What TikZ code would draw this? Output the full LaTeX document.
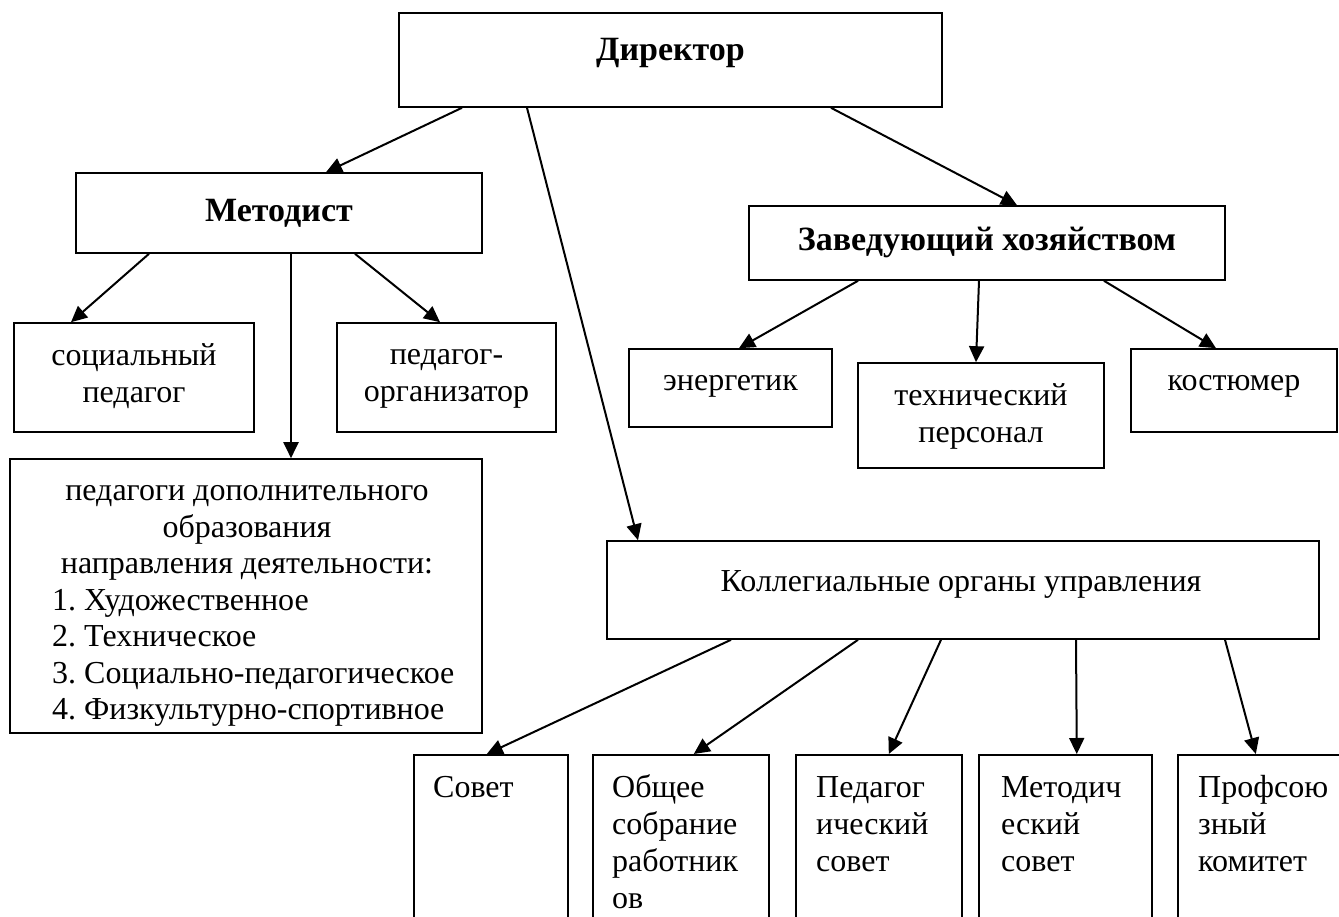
\documentclass[tikz,border=0pt]{standalone}
\usepackage{fontspec}
\setmainfont{Liberation Serif}
\usetikzlibrary{arrows.meta}

\newcommand{\coltext}[1]{\parbox[t]{150pt}{\raggedright\strut #1}}

\tikzset{
  box/.style={draw, line width=1.6pt, inner sep=0pt},
  arr/.style={line width=2pt, -{Triangle[length=16pt,width=15pt]}},
  txt/.style={inner sep=0pt, align=center, font=\fontsize{32}{37}\selectfont\frenchspacing},
  head/.style={inner sep=0pt, font=\fontsize{34}{40}\selectfont\bfseries},
  col/.style={inner sep=0pt, anchor=base west, font=\fontsize{32}{37}\selectfont},
}

\begin{document}
\begin{tikzpicture}[x=1pt,y=-1pt]
  \useasboundingbox (0,0) rectangle (1339,917);
  \clip (0,0) rectangle (1339,917);
  % boxes
  \node[box, minimum width=543pt, minimum height=94pt] (dir) at (670.5,60) {};
  \node[box, minimum width=406pt, minimum height=80pt] (met) at (279,213) {};
  \node[box, minimum width=476pt, minimum height=74pt] (zav) at (987,243) {};
  \node[box, minimum width=240pt, minimum height=109pt] (soc) at (134,377.5) {};
  \node[box, minimum width=219pt, minimum height=109pt] (porg) at (446.5,377.5) {};
  \node[box, minimum width=472pt, minimum height=274pt] (ped) at (246,596) {};
  \node[box, minimum width=203pt, minimum height=78pt] (en) at (730.5,388) {};
  \node[box, minimum width=246pt, minimum height=105pt] (tech) at (981,415.5) {};
  \node[box, minimum width=206pt, minimum height=83pt] (kos) at (1234,390.5) {};
  \node[box, minimum width=712pt, minimum height=98pt] (kol) at (963,590) {};
  \node[box, anchor=north west, minimum width=154pt, minimum height=200pt] (sov) at (413,754) {};
  \node[box, anchor=north west, minimum width=176pt, minimum height=200pt] (obs) at (592,754) {};
  \node[box, anchor=north west, minimum width=166pt, minimum height=200pt] (psov) at (795,754) {};
  \node[box, anchor=north west, minimum width=173pt, minimum height=200pt] (msov) at (978,754) {};
  \node[box, anchor=north west, minimum width=173pt, minimum height=200pt] (prof) at (1177,754) {};

  % texts
  \node[head] (dirtxt) at (670.5,53) {Директор};
  \node[head] (mettxt) at (279,213) {Методист};
  \node[head] (zavtxt) at (987,242) {Заведующий хозяйством};
  \node[txt] (soctxt) at (134,376) {социальный\\педагог};
  \node[txt] (porgtxt) at (446.5,379) {педагог-\\организатор};
  \node[txt, font=\fontsize{32}{36.5}\selectfont] (pedtxt) at (247,533)
    {педагоги дополнительного\\образования\\направления деятельности:};
  \node[txt, align=left, anchor=west, font=\fontsize{32}{36.5}\selectfont\frenchspacing] (pedlist) at (52,658)
    {1. Художественное\\2. Техническое\\3. Социально-педагогическое\\4. Физкультурно-спортивное};
  \node[txt] (entxt) at (730.5,386) {энергетик};
  \node[txt] (techtxt) at (981,416) {технический\\персонал};
  \node[txt] (kostxt) at (1234,386) {костюмер};
  \node[txt] (koltxt) at (961,584) {Коллегиальные органы управления};
  \node[col] (sovtxt) at (433,797) {\coltext{Совет}};
  \node[col] (obstxt) at (612,797) {\coltext{Общее\\собрание\\работник\\ов}};
  \node[col] (psovtxt) at (816,797) {\coltext{Педагог\\ический\\совет}};
  \node[col] (msovtxt) at (1001,797) {\coltext{Методич\\еский\\совет}};
  \node[col] (proftxt) at (1198,797) {\coltext{Профсою\\зный\\комитет}};

  % arrows
  \draw[arr] ([xshift=-208.5pt]dir.south) -- ([xshift=47pt]met.north);
  \draw[arr] ([xshift=-143.5pt]dir.south) -- ([xshift=-325pt]kol.north);
  \draw[arr] ([xshift=160.5pt]dir.south) -- ([xshift=30pt]zav.north);
  \draw[arr] ([xshift=-130pt]met.south) -- ([xshift=-63pt]soc.north);
  \draw[arr] ([xshift=12pt]met.south) -- ([xshift=45pt]ped.north);
  \draw[arr] ([xshift=76pt]met.south) -- ([xshift=-6.5pt]porg.north);
  \draw[arr] ([xshift=-129pt]zav.south) -- ([xshift=8.5pt]en.north);
  \draw[arr] ([xshift=-8pt]zav.south) -- ([xshift=-5pt]tech.north);
  \draw[arr] ([xshift=117pt]zav.south) -- ([xshift=-18pt]kos.north);
  \draw[arr] ([xshift=-232pt]kol.south) -- ([xshift=-4pt]sov.north);
  \draw[arr] ([xshift=-105pt]kol.south) -- ([xshift=13pt]obs.north);
  \draw[arr] ([xshift=-22pt]kol.south) -- ([xshift=10pt]psov.north);
  \draw[arr] ([xshift=113pt]kol.south) -- ([xshift=11.5pt]msov.north);
  \draw[arr] ([xshift=262pt]kol.south) -- ([xshift=-8.5pt]prof.north);
\end{tikzpicture}
\end{document}
